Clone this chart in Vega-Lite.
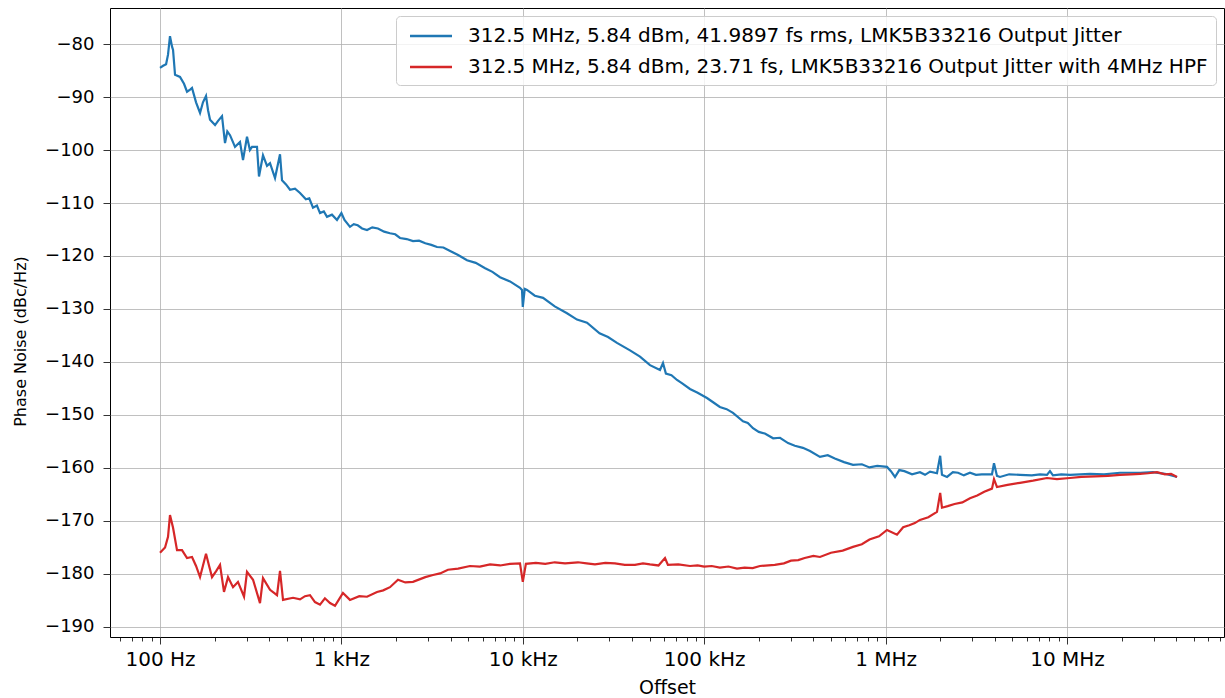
{
  "$schema": "https://vega.github.io/schema/vega-lite/v6.json",
  "width": 1114,
  "height": 629,
  "autosize": "none",
  "padding": {"left": 110, "top": 8, "right": 1, "bottom": 61},
  "background": "white",
  "config": {
    "view": {"stroke": "#000000", "strokeWidth": 1},
    "font": "DejaVu Sans",
    "axis": {
      "labelFont": "DejaVu Sans",
      "titleFont": "DejaVu Sans",
      "labelColor": "#000000",
      "titleColor": "#000000",
      "titleFontWeight": "normal",
      "domain": false,
      "tickColor": "#000000",
      "tickWidth": 0.8,
      "gridColor": "#b0b0b0",
      "gridWidth": 0.8
    }
  },
  "data": {
    "values": [
      {"s":"A","f":100,"v":-84.5},{"s":"A","f":104,"v":-84.1},{"s":"A","f":108,"v":-83.8},{"s":"A","f":110.7,"v":-82},{"s":"A","f":113.5,"v":-78.5},{"s":"A","f":116.5,"v":-80.5},{"s":"A","f":118,"v":-81.1},{"s":"A","f":121,"v":-85.8},{"s":"A","f":128.9,"v":-86.2},{"s":"A","f":135.6,"v":-87.5},{"s":"A","f":140.9,"v":-89},{"s":"A","f":146.5,"v":-88.6},{"s":"A","f":150.1,"v":-88.3},{"s":"A","f":158,"v":-91},{"s":"A","f":166.2,"v":-93},{"s":"A","f":172.5,"v":-91},{"s":"A","f":179.3,"v":-89.8},{"s":"A","f":184,"v":-92.5},{"s":"A","f":188.7,"v":-94.3},{"s":"A","f":201.1,"v":-95.3},{"s":"A","f":209,"v":-94.5},{"s":"A","f":219.7,"v":-93.6},{"s":"A","f":228.2,"v":-98.7},{"s":"A","f":235,"v":-96.5},{"s":"A","f":243.2,"v":-97.2},{"s":"A","f":259.1,"v":-99.4},{"s":"A","f":276,"v":-98.5},{"s":"A","f":286.8,"v":-101.9},{"s":"A","f":301.7,"v":-97.5},{"s":"A","f":313,"v":-100},{"s":"A","f":321.6,"v":-99.4},{"s":"A","f":342.5,"v":-99.4},{"s":"A","f":351.3,"v":-105},{"s":"A","f":369.6,"v":-101},{"s":"A","f":389,"v":-103},{"s":"A","f":404.1,"v":-102.5},{"s":"A","f":430.5,"v":-105.3},{"s":"A","f":458.7,"v":-100.8},{"s":"A","f":470.5,"v":-105.7},{"s":"A","f":495,"v":-106.5},{"s":"A","f":520.8,"v":-107.5},{"s":"A","f":555,"v":-107.3},{"s":"A","f":591.4,"v":-108.1},{"s":"A","f":637,"v":-109.3},{"s":"A","f":665,"v":-109.1},{"s":"A","f":697.3,"v":-110.9},{"s":"A","f":733,"v":-110.5},{"s":"A","f":762.1,"v":-111.9},{"s":"A","f":800,"v":-111.6},{"s":"A","f":832.9,"v":-112.6},{"s":"A","f":887,"v":-112.2},{"s":"A","f":945.6,"v":-113.2},{"s":"A","f":1000,"v":-111.9},{"s":"A","f":1040,"v":-113.2},{"s":"A","f":1115,"v":-114.5},{"s":"A","f":1170,"v":-114},{"s":"A","f":1230,"v":-114.2},{"s":"A","f":1300,"v":-114.8},{"s":"A","f":1384,"v":-115.1},{"s":"A","f":1480,"v":-114.6},{"s":"A","f":1590,"v":-114.8},{"s":"A","f":1720,"v":-115.4},{"s":"A","f":1853,"v":-115.7},{"s":"A","f":1980,"v":-115.9},{"s":"A","f":2104,"v":-116.6},{"s":"A","f":2290,"v":-116.8},{"s":"A","f":2481,"v":-117.2},{"s":"A","f":2680,"v":-117.1},{"s":"A","f":2900,"v":-117.6},{"s":"A","f":3130,"v":-117.9},{"s":"A","f":3365,"v":-118.3},{"s":"A","f":3650,"v":-118.4},{"s":"A","f":3950,"v":-119},{"s":"A","f":4400,"v":-119.8},{"s":"A","f":4925,"v":-120.8},{"s":"A","f":5500,"v":-121.3},{"s":"A","f":6200,"v":-122.3},{"s":"A","f":6800,"v":-123},{"s":"A","f":7487,"v":-124},{"s":"A","f":8500,"v":-124.8},{"s":"A","f":9651,"v":-126},{"s":"A","f":9900,"v":-126.4},{"s":"A","f":10000,"v":-129.6},{"s":"A","f":10250,"v":-126.2},{"s":"A","f":10550,"v":-126.4},{"s":"A","f":11650,"v":-127.5},{"s":"A","f":12930,"v":-127.9},{"s":"A","f":15000,"v":-129.5},{"s":"A","f":17525,"v":-130.8},{"s":"A","f":19900,"v":-132},{"s":"A","f":22590,"v":-132.6},{"s":"A","f":26500,"v":-134.6},{"s":"A","f":29500,"v":-135.3},{"s":"A","f":33050,"v":-136.4},{"s":"A","f":39000,"v":-137.8},{"s":"A","f":44270,"v":-139},{"s":"A","f":50260,"v":-140.6},{"s":"A","f":57060,"v":-141.5},{"s":"A","f":59280,"v":-140.2},{"s":"A","f":61500,"v":-142.2},{"s":"A","f":66000,"v":-142.5},{"s":"A","f":70820,"v":-143.4},{"s":"A","f":76000,"v":-144.1},{"s":"A","f":83500,"v":-145.1},{"s":"A","f":92000,"v":-145.8},{"s":"A","f":103600,"v":-146.8},{"s":"A","f":112000,"v":-147.6},{"s":"A","f":122000,"v":-148.5},{"s":"A","f":133000,"v":-148.9},{"s":"A","f":144100,"v":-149.6},{"s":"A","f":163700,"v":-151.2},{"s":"A","f":174000,"v":-151.5},{"s":"A","f":185800,"v":-152.5},{"s":"A","f":200000,"v":-153.2},{"s":"A","f":216000,"v":-153.5},{"s":"A","f":240000,"v":-154.4},{"s":"A","f":261800,"v":-154.3},{"s":"A","f":290000,"v":-155.3},{"s":"A","f":316000,"v":-155.8},{"s":"A","f":350000,"v":-156.2},{"s":"A","f":383000,"v":-156.8},{"s":"A","f":434800,"v":-157.9},{"s":"A","f":480000,"v":-157.6},{"s":"A","f":525000,"v":-158.2},{"s":"A","f":590000,"v":-158.9},{"s":"A","f":661300,"v":-159.4},{"s":"A","f":740000,"v":-159.3},{"s":"A","f":815000,"v":-159.9},{"s":"A","f":900000,"v":-159.6},{"s":"A","f":1018000,"v":-159.8},{"s":"A","f":1070000,"v":-160.6},{"s":"A","f":1127000,"v":-161.7},{"s":"A","f":1190000,"v":-160.4},{"s":"A","f":1270000,"v":-160.6},{"s":"A","f":1400000,"v":-161.2},{"s":"A","f":1547000,"v":-160.8},{"s":"A","f":1650000,"v":-161.3},{"s":"A","f":1760000,"v":-160.7},{"s":"A","f":1920000,"v":-161},{"s":"A","f":2000000,"v":-157.7},{"s":"A","f":2046000,"v":-161.3},{"s":"A","f":2181000,"v":-161.7},{"s":"A","f":2350000,"v":-160.8},{"s":"A","f":2510000,"v":-160.9},{"s":"A","f":2700000,"v":-161.4},{"s":"A","f":2919000,"v":-160.9},{"s":"A","f":3150000,"v":-161.3},{"s":"A","f":3390000,"v":-161.2},{"s":"A","f":3860000,"v":-161.2},{"s":"A","f":3960000,"v":-159.1},{"s":"A","f":4113000,"v":-161.5},{"s":"A","f":4272000,"v":-161.7},{"s":"A","f":4800000,"v":-161.2},{"s":"A","f":5508000,"v":-161.3},{"s":"A","f":6400000,"v":-161.4},{"s":"A","f":7100000,"v":-161.2},{"s":"A","f":7759000,"v":-161.3},{"s":"A","f":8058000,"v":-160.6},{"s":"A","f":8370000,"v":-161.4},{"s":"A","f":9300000,"v":-161.2},{"s":"A","f":10390000,"v":-161.3},{"s":"A","f":13400000,"v":-161.1},{"s":"A","f":16000000,"v":-161.2},{"s":"A","f":19600000,"v":-160.9},{"s":"A","f":25300000,"v":-160.9},{"s":"A","f":29800000,"v":-160.8},{"s":"A","f":34700000,"v":-161.1},{"s":"A","f":40420000,"v":-161.7},
      {"s":"B","f":100,"v":-176},{"s":"B","f":106.6,"v":-175},{"s":"B","f":110.7,"v":-173},{"s":"B","f":113.5,"v":-168.9},{"s":"B","f":118,"v":-171.3},{"s":"B","f":124.1,"v":-175.5},{"s":"B","f":132.2,"v":-175.5},{"s":"B","f":140.9,"v":-177},{"s":"B","f":150.1,"v":-176.8},{"s":"B","f":158,"v":-178.5},{"s":"B","f":166.2,"v":-180.6},{"s":"B","f":179.3,"v":-176.2},{"s":"B","f":186.5,"v":-178.5},{"s":"B","f":193.5,"v":-180.6},{"s":"B","f":203.5,"v":-179.5},{"s":"B","f":214.2,"v":-178.3},{"s":"B","f":225.3,"v":-183.4},{"s":"B","f":237.1,"v":-180.6},{"s":"B","f":252.6,"v":-182.5},{"s":"B","f":269,"v":-181.5},{"s":"B","f":290.5,"v":-184.3},{"s":"B","f":301.7,"v":-179.6},{"s":"B","f":325.7,"v":-181.1},{"s":"B","f":355.8,"v":-185.5},{"s":"B","f":369.6,"v":-180.8},{"s":"B","f":404.1,"v":-183},{"s":"B","f":441.6,"v":-184},{"s":"B","f":458.7,"v":-179.4},{"s":"B","f":476.5,"v":-184.9},{"s":"B","f":541.1,"v":-184.5},{"s":"B","f":591.4,"v":-184.8},{"s":"B","f":630,"v":-184.2},{"s":"B","f":671.3,"v":-184},{"s":"B","f":715,"v":-185.3},{"s":"B","f":762.1,"v":-185.8},{"s":"B","f":811,"v":-184.6},{"s":"B","f":865.1,"v":-185.5},{"s":"B","f":921.9,"v":-186},{"s":"B","f":970,"v":-184.8},{"s":"B","f":1020,"v":-183.6},{"s":"B","f":1115,"v":-184.9},{"s":"B","f":1255,"v":-184.2},{"s":"B","f":1384,"v":-184.3},{"s":"B","f":1572,"v":-183.4},{"s":"B","f":1700,"v":-183.1},{"s":"B","f":1853,"v":-182.5},{"s":"B","f":2051,"v":-181.1},{"s":"B","f":2250,"v":-181.6},{"s":"B","f":2481,"v":-181.5},{"s":"B","f":2900,"v":-180.6},{"s":"B","f":3199,"v":-180.2},{"s":"B","f":3500,"v":-179.9},{"s":"B","f":3869,"v":-179.2},{"s":"B","f":4400,"v":-179},{"s":"B","f":5115,"v":-178.5},{"s":"B","f":5800,"v":-178.6},{"s":"B","f":6600,"v":-178.2},{"s":"B","f":7500,"v":-178.4},{"s":"B","f":8500,"v":-178.1},{"s":"B","f":9651,"v":-178},{"s":"B","f":10000,"v":-181.5},{"s":"B","f":10400,"v":-178.1},{"s":"B","f":11800,"v":-177.9},{"s":"B","f":13300,"v":-178.1},{"s":"B","f":15000,"v":-177.8},{"s":"B","f":17100,"v":-178},{"s":"B","f":20150,"v":-177.8},{"s":"B","f":22500,"v":-178},{"s":"B","f":25000,"v":-178.2},{"s":"B","f":28500,"v":-177.9},{"s":"B","f":32200,"v":-178},{"s":"B","f":36500,"v":-178.3},{"s":"B","f":41500,"v":-178.3},{"s":"B","f":46000,"v":-178},{"s":"B","f":50260,"v":-178.2},{"s":"B","f":56000,"v":-178.4},{"s":"B","f":60800,"v":-177},{"s":"B","f":63100,"v":-178.3},{"s":"B","f":72000,"v":-178.2},{"s":"B","f":83500,"v":-178.5},{"s":"B","f":92000,"v":-178.4},{"s":"B","f":100000,"v":-178.6},{"s":"B","f":110000,"v":-178.5},{"s":"B","f":122000,"v":-178.8},{"s":"B","f":136000,"v":-178.6},{"s":"B","f":151600,"v":-179},{"s":"B","f":167000,"v":-178.8},{"s":"B","f":185000,"v":-178.9},{"s":"B","f":203000,"v":-178.5},{"s":"B","f":245000,"v":-178.3},{"s":"B","f":275000,"v":-178},{"s":"B","f":301000,"v":-177.5},{"s":"B","f":330000,"v":-177.4},{"s":"B","f":358000,"v":-177},{"s":"B","f":400000,"v":-176.6},{"s":"B","f":434800,"v":-176.8},{"s":"B","f":500000,"v":-176},{"s":"B","f":580000,"v":-175.6},{"s":"B","f":661300,"v":-174.9},{"s":"B","f":740000,"v":-174.4},{"s":"B","f":815000,"v":-173.5},{"s":"B","f":920000,"v":-172.9},{"s":"B","f":1018000,"v":-171.7},{"s":"B","f":1156000,"v":-172.6},{"s":"B","f":1250000,"v":-171.2},{"s":"B","f":1350000,"v":-170.8},{"s":"B","f":1450000,"v":-170.4},{"s":"B","f":1547000,"v":-169.8},{"s":"B","f":1720000,"v":-169.3},{"s":"B","f":1920000,"v":-168.3},{"s":"B","f":2000000,"v":-164.7},{"s":"B","f":2046000,"v":-167.5},{"s":"B","f":2200000,"v":-167.2},{"s":"B","f":2400000,"v":-166.8},{"s":"B","f":2650000,"v":-166.5},{"s":"B","f":2919000,"v":-165.7},{"s":"B","f":3200000,"v":-165.2},{"s":"B","f":3500000,"v":-164.5},{"s":"B","f":3860000,"v":-163.9},{"s":"B","f":3960000,"v":-162.1},{"s":"B","f":4113000,"v":-163.6},{"s":"B","f":4700000,"v":-163.2},{"s":"B","f":5508000,"v":-162.8},{"s":"B","f":6500000,"v":-162.4},{"s":"B","f":7759000,"v":-161.9},{"s":"B","f":8800000,"v":-162.1},{"s":"B","f":10390000,"v":-161.9},{"s":"B","f":12000000,"v":-161.7},{"s":"B","f":14300000,"v":-161.6},{"s":"B","f":16800000,"v":-161.5},{"s":"B","f":19600000,"v":-161.3},{"s":"B","f":22500000,"v":-161.2},{"s":"B","f":25300000,"v":-161.1},{"s":"B","f":28000000,"v":-161},{"s":"B","f":31340000,"v":-160.8},{"s":"B","f":34700000,"v":-161.2},{"s":"B","f":37500000,"v":-161.1},{"s":"B","f":40420000,"v":-161.7}
    ]
  },
  "mark": {"type": "line", "strokeWidth": 2.2, "interpolate": "linear"},
  "encoding": {
    "x": {
      "field": "f",
      "type": "quantitative",
      "scale": {"type": "log", "domain": [53, 73400000], "nice": false, "zero": false},
      "axis": {
        "title": "Offset",
        "titleFontSize": 19,
        "titlePadding": 9,
        "labelFontSize": 20,
        "labelPadding": 5,
        "labelOverlap": false,
        "labelFlush": false,
        "values": [60,70,80,90,100,200,300,400,500,600,700,800,900,1000,2000,3000,4000,5000,6000,7000,8000,9000,10000,20000,30000,40000,50000,60000,70000,80000,90000,100000,200000,300000,400000,500000,600000,700000,800000,900000,1000000,2000000,3000000,4000000,5000000,6000000,7000000,8000000,9000000,10000000,20000000,30000000,40000000,50000000,60000000,70000000],
        "labelExpr": "datum.value==100?'100 Hz':datum.value==1000?'1 kHz':datum.value==10000?'10 kHz':datum.value==100000?'100 kHz':datum.value==1000000?'1 MHz':datum.value==10000000?'10 MHz':''",
        "tickSize": {"condition": {"test": "indexof([100,1000,10000,100000,1000000,10000000], datum.value) >= 0", "value": 7}, "value": 4},
        "gridOpacity": {"condition": {"test": "indexof([100,1000,10000,100000,1000000,10000000], datum.value) >= 0", "value": 1}, "value": 0}
      }
    },
    "y": {
      "field": "v",
      "type": "quantitative",
      "scale": {"domain": [-191.9, -73.2], "nice": false, "zero": false},
      "axis": {
        "title": "Phase Noise (dBc/Hz)",
        "titleFontSize": 16,
        "titlePadding": 16,
        "titleY": 333,
        "labelFontSize": 18,
        "labelPadding": 9,
        "tickSize": 7,
        "values": [-190,-180,-170,-160,-150,-140,-130,-120,-110,-100,-90,-80],
        "labelExpr": "replace(datum.label, '-', '\u2212')"
      }
    },
    "color": {
      "field": "s",
      "type": "nominal",
      "scale": {"domain": ["A", "B"], "range": ["#1f77b4", "#d62728"]},
      "legend": {
        "title": null,
        "orient": "top-right",
        "offset": 8,
        "labelExpr": "datum.value=='A'?'312.5 MHz, 5.84 dBm, 41.9897 fs rms, LMK5B33216 Output Jitter':'312.5 MHz, 5.84 dBm, 23.71 fs, LMK5B33216 Output Jitter with 4MHz HPF'",
        "labelFont": "DejaVu Sans",
        "labelFontSize": 20,
        "labelColor": "#000000",
        "labelLimit": 2000,
        "labelOffset": 25,
        "symbolType": "M-2,0H2",
        "symbolSize": 441,
        "symbolStrokeWidth": 2.5,
        "symbolOffset": 15,
        "rowPadding": 9,
        "padding": 8,
        "strokeColor": "#cccccc",
        "fillColor": "rgba(255,255,255,0.8)",
        "cornerRadius": 4
      }
    }
  }
}
